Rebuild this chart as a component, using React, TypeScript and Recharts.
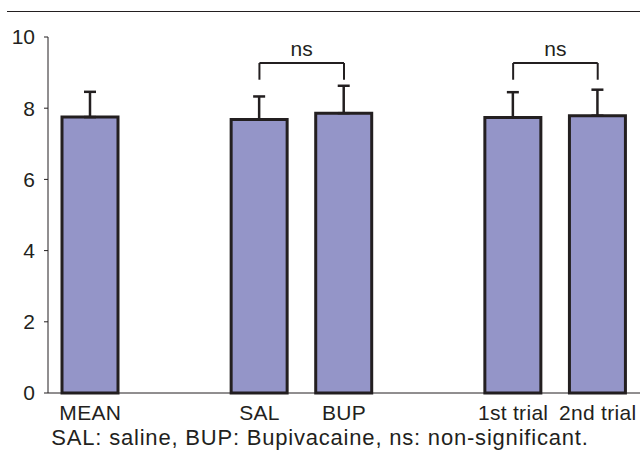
import React from 'react';
import { BarChart, Bar, XAxis, YAxis, ErrorBar, ReferenceLine } from 'recharts';

const categories = ['MEAN', ' ', 'SAL', 'BUP', '  ', '1st trial', '2nd trial'];
const means = [7.75, null, 7.68, 7.86, null, 7.74, 7.79];
const errors = [0.71, null, 0.65, 0.77, null, 0.71, 0.73];
const yTicks = [0, 2, 4, 6, 8, 10];
const comparisons = [
  { from: 'SAL', to: 'BUP', label: 'ns' },
  { from: '1st trial', to: '2nd trial', label: 'ns' },
];
const caption = 'SAL: saline, BUP: Bupivacaine, ns: non-significant.';

const data = categories.map((name, i) => ({
  name,
  value: means[i],
  err: errors[i] == null ? null : [0, errors[i]],
}));

const FONT = '"Liberation Sans", Arial, sans-serif';
const INK = '#231f20';
const BRACKET_Y = 9.27;
const LEG_Y = 8.8;

export default function App() {
  return (
    <div style={{ position: 'absolute', left: 0, top: 0, width: 640, height: 463, background: '#fff', fontFamily: FONT }}>
      <div style={{ position: 'absolute', left: 7, right: 0, top: 11, borderTop: `1.5px solid ${INK}` }} />
      <BarChart
        width={640}
        height={463}
        data={data}
        margin={{ top: 37, right: 0, bottom: 40, left: 8 }}
        barSize={56}
      >
        <XAxis
          dataKey="name"
          height={30}
          tickLine={false}
          axisLine={{ stroke: INK, strokeWidth: 1 }}
          tick={{ fill: INK, fontSize: 21, fontFamily: FONT, letterSpacing: 0.3 }}
          tickMargin={6}
          interval={0}
        />
        <YAxis
          width={40}
          domain={[0, 10]}
          ticks={yTicks}
          tickSize={4}
          tickMargin={9}
          axisLine={{ stroke: INK, strokeWidth: 1 }}
          tickLine={{ stroke: INK, strokeWidth: 1 }}
          tick={{ fill: INK, fontSize: 21, fontFamily: FONT }}
        />
        <Bar dataKey="value" fill="#9495c8" stroke={INK} strokeWidth={3} isAnimationActive={false}>
          <ErrorBar dataKey="err" direction="y" width={6} stroke={INK} strokeWidth={2.5} />
        </Bar>
        {comparisons.map((c, i) => (
          <React.Fragment key={i}>
            <ReferenceLine
              segment={[{ x: c.from, y: BRACKET_Y }, { x: c.to, y: BRACKET_Y }]}
              stroke={INK}
              strokeWidth={2}
              label={{ value: c.label, position: 'top', offset: 7, fill: INK, fontSize: 21, fontFamily: FONT }}
            />
            <ReferenceLine segment={[{ x: c.from, y: BRACKET_Y }, { x: c.from, y: LEG_Y }]} stroke={INK} strokeWidth={2} />
            <ReferenceLine segment={[{ x: c.to, y: BRACKET_Y }, { x: c.to, y: LEG_Y }]} stroke={INK} strokeWidth={2} />
          </React.Fragment>
        ))}
      </BarChart>
      <div style={{ position: 'absolute', left: 0, width: 640, top: 425, textAlign: 'center', fontSize: 22, letterSpacing: 0.8, color: INK, lineHeight: '26px' }}>
        {caption}
      </div>
    </div>
  );
}
